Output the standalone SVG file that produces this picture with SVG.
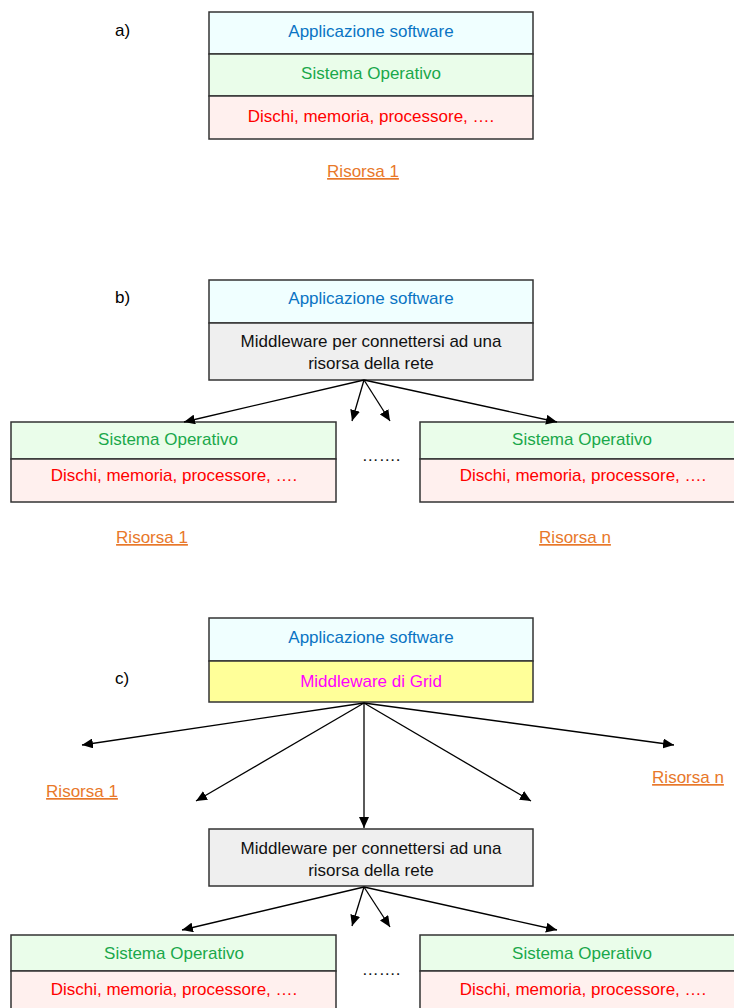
<svg xmlns="http://www.w3.org/2000/svg" width="734" height="1008" viewBox="0 0 734 1008">
<defs>
<marker id="ah" markerUnits="userSpaceOnUse" markerWidth="12" markerHeight="10" refX="11" refY="5" orient="auto">
<path d="M0,0 L11,5 L0,10 Z" fill="#000"/>
</marker>
<style>
text{font-family:"Liberation Sans",Arial,sans-serif;font-size:17px;text-anchor:middle}
.box{stroke:#333;stroke-width:1.5}
.app{fill:#f0ffff}.os{fill:#eafdea}.hw{fill:#fff0ee}.mw{fill:#efefef}.grid{fill:#ffff99}
.tapp{fill:#0a74c4}.tos{fill:#1aa84a}.thw{fill:#ff0000}.tmw{fill:#111}.tgrid{fill:#ff00ff}
.lbl{fill:#000;text-anchor:start}
.res{fill:#e8782a;text-decoration:underline}
.dots{fill:#111}
.conn line{stroke:#000;stroke-width:1.3;marker-end:url(#ah)}
</style>
</defs>

<!-- a -->
<text class="lbl" x="115" y="36">a)</text>
<g id="a-stack">
<rect class="box app" x="209" y="12" width="324" height="42"/>
<rect class="box os" x="209" y="54" width="324" height="42"/>
<rect class="box hw" x="209" y="96" width="324" height="43"/>
<text class="tapp" x="371" y="37">Applicazione software</text>
<text class="tos" x="371" y="79">Sistema Operativo</text>
<text class="thw" x="371" y="122">Dischi, memoria, processore, ….</text>
</g>
<text class="res" x="363" y="177">Risorsa 1</text>

<!-- b -->
<text class="lbl" x="115" y="303">b)</text>
<g id="b-top">
<rect class="box app" x="209" y="280" width="324" height="43"/>
<rect class="box mw" x="209" y="323" width="324" height="57"/>
<text class="tapp" x="371" y="304">Applicazione software</text>
<text class="tmw" x="371" y="347">Middleware per connettersi ad una</text>
<text class="tmw" x="371" y="369">risorsa della rete</text>
</g>
<g id="b-res1">
<rect class="box os" x="11" y="422" width="325" height="37"/>
<rect class="box hw" x="11" y="459" width="325" height="43"/>
<text class="tos" x="168" y="445">Sistema Operativo</text>
<text class="thw" x="174" y="481">Dischi, memoria, processore, ….</text>
</g>
<g id="b-resn">
<rect class="box os" x="420" y="422" width="325" height="37"/>
<rect class="box hw" x="420" y="459" width="325" height="43"/>
<text class="tos" x="582" y="445">Sistema Operativo</text>
<text class="thw" x="583" y="481">Dischi, memoria, processore, ….</text>
</g>
<text class="dots" x="381" y="461">…….</text>
<text class="res" x="152" y="543">Risorsa 1</text>
<text class="res" x="575" y="543">Risorsa n</text>
<g class="conn" id="b-conn">
<line x1="364" y1="380" x2="184" y2="422"/>
<line x1="364" y1="380" x2="352" y2="421"/>
<line x1="364" y1="380" x2="390" y2="421"/>
<line x1="364" y1="380" x2="557" y2="422"/>
</g>

<!-- c -->
<text class="lbl" x="115" y="684">c)</text>
<g id="c-top">
<rect class="box app" x="209" y="618" width="324" height="43"/>
<rect class="box grid" x="209" y="661" width="324" height="41"/>
<text class="tapp" x="371" y="643">Applicazione software</text>
<text class="tgrid" x="371" y="687">Middleware di Grid</text>
</g>
<text class="res" x="82" y="797">Risorsa 1</text>
<text class="res" x="688" y="783">Risorsa n</text>
<g class="conn" id="c-conn">
<line x1="364" y1="703" x2="82" y2="745"/>
<line x1="364" y1="703" x2="196" y2="801"/>
<line x1="364" y1="703" x2="364" y2="828"/>
<line x1="364" y1="703" x2="531" y2="801"/>
<line x1="364" y1="703" x2="674" y2="745"/>
</g>
<g id="c-mw">
<rect class="box mw" x="209" y="829" width="324" height="57"/>
<text class="tmw" x="371" y="854">Middleware per connettersi ad una</text>
<text class="tmw" x="371" y="876">risorsa della rete</text>
</g>
<g id="c-res1">
<rect class="box os" x="11" y="935" width="325" height="36"/>
<rect class="box hw" x="11" y="971" width="325" height="43"/>
<text class="tos" x="174" y="959">Sistema Operativo</text>
<text class="thw" x="174" y="995">Dischi, memoria, processore, ….</text>
</g>
<g id="c-resn">
<rect class="box os" x="420" y="935" width="325" height="36"/>
<rect class="box hw" x="420" y="971" width="325" height="43"/>
<text class="tos" x="582" y="959">Sistema Operativo</text>
<text class="thw" x="583" y="995">Dischi, memoria, processore, ….</text>
</g>
<text class="dots" x="381" y="975">…….</text>
<g class="conn" id="c-conn2">
<line x1="364" y1="887" x2="182" y2="930"/>
<line x1="364" y1="887" x2="352" y2="926"/>
<line x1="364" y1="887" x2="390" y2="927"/>
<line x1="364" y1="887" x2="557" y2="930"/>
</g>
</svg>
